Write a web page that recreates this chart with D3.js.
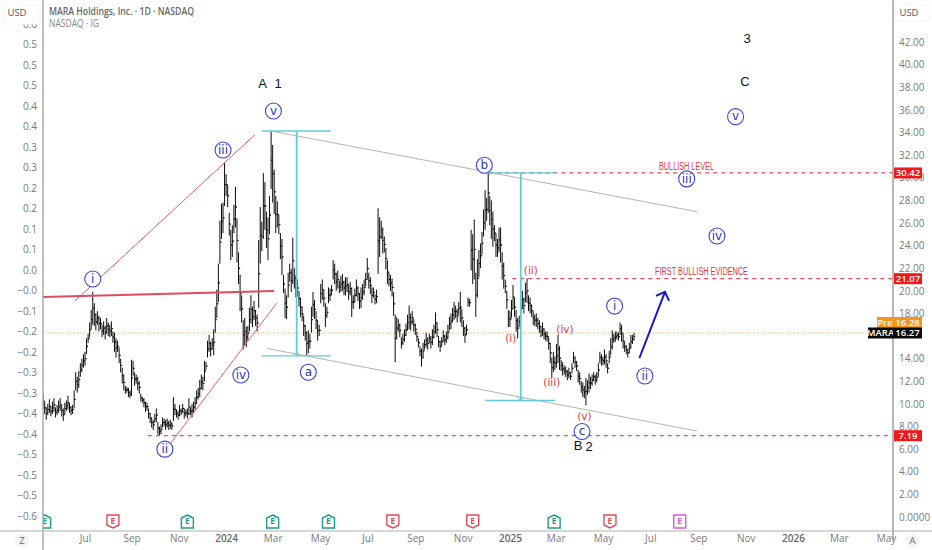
<!DOCTYPE html>
<html>
<head>
<meta charset="utf-8">
<script src="https://cdn.jsdelivr.net/npm/d3@7"></script>
<style>
  html, body { margin: 0; padding: 0; background: #fff; }
  svg { display: block; }
  text { font-family: "Open Sans", "Noto Sans", sans-serif; }
  .axis path.domain, .axis line { display: none; }
  .axis text { font-size: 10px; fill: #7a7a7a; }
</style>
</head>
<body>
<script>
// Daily bars, [low, high], one entry every second calendar day from 2023-05-10
const firstBarDate = "2023-05-10";
const barRanges = [
  // 2023 base and first rally
  [9.6,10.9],[9.1,10.2],[8.6,9.7],[9.0,10.0],[9.2,10.4],[8.9,9.8],[9.1,10.2],[9.3,10.5],[8.8,9.7],[9.0,9.9],[9.2,10.3],
  [9.4,10.5],[8.9,9.9],[8.5,9.6],[9.1,10.1],[9.4,10.3],[9.5,10.7],[9.2,10.1],[9.0,9.8],[9.1,9.9],
  [9.6,11.2],[11.2,12.8],[11.0,12.4],[11.4,12.9],[12.4,13.6],[12.8,14.0],[13.2,14.4],[13.4,14.6],[14.4,15.8],
  [15.4,16.2],[15.9,17.2],[16.6,18.3],[17.0,19.9],[16.9,18.9],
  [16.5,18.0],[17.0,18.2],[16.4,17.8],[16.6,17.6],[15.9,17.0],[16.1,17.3],[15.7,16.9],[16.2,17.6],[16.0,17.2],[15.9,17.0],[16.0,17.3],
  [15.4,16.4],[14.6,16.3],[14.1,15.8],[14.6,15.6],[13.6,15.0],[12.8,14.0],[11.8,13.2],
  [11.2,12.6],[10.9,11.6],[11.0,11.5],[10.6,11.4],[10.5,11.2],[10.7,13.9],[12.5,13.8],
  [11.6,12.8],[11.8,12.6],[11.2,12.4],[10.9,12.0],[10.2,10.9],[10.1,10.6],[9.7,10.5],[9.3,10.2],[9.4,10.1],
  [8.7,9.6],[8.3,9.2],[7.9,8.8],[7.7,8.6],[8.3,9.1],[8.4,9.6],[7.3,8.4],[7.19,8.0],[7.3,8.2],
  [7.9,8.8],[8.0,8.7],[7.7,8.6],[7.9,8.7],[7.7,8.5],[7.8,8.6],[7.7,8.4],[8.5,10.6],
  [9.0,10.0],[8.8,9.5],[8.6,9.4],[8.9,9.9],[9.0,9.6],[9.2,10.0],[8.7,9.6],[8.9,9.5],
  [8.7,9.6],[9.0,10.5],[9.0,9.7],[8.8,10.0],[9.2,10.2],[9.5,10.6],
  [10.0,11.2],[10.4,11.4],[10.6,12.1],[11.3,12.6],[11.2,12.4],[12.0,13.8],[13.0,13.7],
  [14.1,15.6],[14.6,16.1],[14.2,15.5],[14.8,15.8],[14.3,16.6],[16.3,18.6],[17.6,20.1],
  // winter 2024 spikes
  [19.0,22.4],[22.4,26.2],[24.6,27.7],[25.1,27.8],[27.5,31.3],[28.4,30.3],[27.4,29.4],
  [24.9,26.9],[22.7,25.4],[23.0,25.8],[25.1,27.6],[25.6,29.2],[22.5,26.4],[20.6,23.4],[18.2,21.4],[17.2,19.6],
  [14.8,17.4],[15.2,17.6],[15.0,16.8],[15.6,16.9],[16.4,18.5],[17.1,19.6],[16.8,18.6],[17.4,19.1],[16.9,18.3],[16.4,17.9],
  [18.5,24.5],[22.4,27.4],[23.5,26.1],[24.6,30.4],[25.4,29.6],[23.8,27.0],[22.7,26.5],[25.0,28.4],
  [29.0,34.1],[27.8,32.9],[26.8,30.7],[25.1,28.4],[25.6,27.9],[25.0,26.7],[22.8,25.1],[21.4,24.6],
  [19.8,21.4],[17.6,20.2],[17.5,19.6],[19.4,21.6],[20.8,22.4],[19.9,21.9],[20.6,24.7],[20.2,22.0],[19.4,21.4],[19.5,21.0],
  [18.6,20.0],[17.7,19.4],[17.3,18.6],[16.0,17.8],[15.6,17.0],[14.3,16.4],
  // spring to autumn 2024
  [14.5,16.5],[14.9,16.2],[16.3,18.6],[17.7,19.9],[17.5,19.2],[16.6,18.2],[15.6,17.4],[16.0,17.0],
  [18.9,20.6],[19.2,21.0],[18.6,20.1],[16.8,18.9],[17.6,18.6],[18.9,20.3],[19.1,20.2],[19.6,20.5],[21.0,22.7],[20.6,22.4],
  [20.0,21.6],[20.2,21.8],[19.8,20.9],[19.9,21.3],[20.0,21.5],[19.6,20.9],[19.6,21.2],[19.9,21.2],[19.2,20.6],[19.6,20.8],[17.7,20.3],
  [18.4,19.6],[19.0,20.2],[19.5,21.0],[19.1,20.4],[18.4,19.8],[18.5,20.3],[19.2,20.6],[19.6,21.0],[20.4,21.6],[21.0,22.9],
  [20.2,21.6],[19.7,21.2],[18.9,20.3],[19.4,20.3],[18.8,19.7],[18.9,20.1],[21.5,27.3],[23.0,26.5],
  [24.6,26.2],[23.3,25.6],[23.4,24.8],[21.9,23.8],[20.6,22.7],[20.4,21.6],[20.0,21.4],[19.5,21.1],[17.8,19.9],[13.7,17.9],
  [15.7,17.7],[16.4,17.5],[15.9,17.1],[14.9,15.9],[15.2,16.2],[15.5,16.6],[16.0,17.1],[16.5,17.9],[16.6,18.7],[16.5,18.0],[17.0,18.2],
  [16.4,17.5],[16.1,17.1],[15.5,16.4],[15.0,15.8],[14.2,15.1],[13.3,14.9],[14.0,15.4],[14.8,15.7],[15.0,16.3],[14.8,15.9],[15.4,16.2],
  [14.9,16.0],[15.2,16.6],[15.8,17.0],[16.2,18.1],[15.9,17.2],[15.0,16.0],[14.6,15.6],[15.1,15.9],[15.5,16.5],[15.2,16.1],[15.4,16.4],[15.7,17.0],[16.5,17.7],
  [16.6,18.0],[17.2,18.5],[17.4,19.0],[17.6,18.7],[17.2,18.4],[17.9,19.0],[17.2,19.9],[16.8,18.4],[16.0,17.4],[15.4,16.8],[16.1,17.0],
  // november 2024 wave b
  [18.6,19.4],[18.6,19.3],[21.8,25.4],[20.6,25.0],[21.0,26.3],[17.7,21.6],[19.4,22.8],
  [21.2,23.6],[22.0,24.2],[23.2,25.2],[24.8,27.2],[25.4,28.9],[26.2,28.2],[26.9,30.4],[25.8,28.4],
  [24.6,28.0],[23.9,27.0],[24.4,25.8],[23.0,25.1],[23.0,24.6],[23.4,25.6],[22.5,25.6],[21.0,23.4],[20.2,22.5],
  [19.8,21.0],[18.4,20.0],[16.8,18.3],[16.8,18.2],[17.6,19.2],[18.4,20.5],[17.7,19.4],[16.4,18.3],[15.8,17.6],
  // 2025 decline and bounce
  [16.8,17.8],[17.8,19.0],[18.4,20.0],[18.0,19.4],[19.0,20.7],[18.9,21.1],[18.2,19.6],[18.0,19.4],[17.7,18.8],
  [17.0,18.2],[16.9,17.9],[16.8,18.0],[16.6,17.6],[16.3,17.4],[15.9,16.9],[16.0,17.2],[15.7,16.7],[15.6,16.4],[15.5,16.4],[14.8,15.9],[13.6,15.4],
  [12.3,14.1],[12.8,14.6],[13.0,14.2],[13.2,15.3],[13.6,16.1],[13.0,15.1],[12.9,13.9],[12.5,13.7],[12.6,13.4],[12.4,13.3],[12.1,13.0],[12.3,13.2],
  [12.1,12.8],[12.7,13.6],[13.6,14.6],[13.2,14.2],[12.9,13.8],[11.9,13.0],[11.7,12.8],[11.0,12.0],[10.6,11.9],[10.5,11.6],[9.9,12.3],
  [10.8,12.1],[11.0,12.7],[11.3,12.4],[11.6,12.6],[12.0,12.8],[11.7,12.6],[11.9,12.8],[12.4,13.6],[13.6,14.6],[13.4,14.4],
  [13.4,14.2],[13.5,14.8],[13.2,14.4],[12.7,13.6],[13.6,14.7],[14.3,15.8],[14.8,16.5],[15.4,16.2],[15.5,16.4],[15.7,16.4],
  [15.6,16.3],[16.1,17.2],[15.5,17.0],[14.9,16.2],[14.6,15.5],[14.4,15.2],[14.1,14.9],[14.5,15.4],[14.9,16.1],[15.3,16.1],[15.6,16.3]
];

// Axis ticks (16.00 sits under the price tags, so it is left out)
const priceTicks = [0,2,4,6,8,10,12,14,18,20,22,24,26,28,30,32,34,36,38,40,42];
const leftTicks = [-0.6,-0.55,-0.5,-0.45,-0.4,-0.35,-0.3,-0.25,-0.2,-0.15,-0.1,-0.05,0,0.05,0.1,0.15,0.2,0.25,0.3,0.35,0.4,0.45,0.5,0.55,0.6];
const leftLabels = ["−0.6","−0.5","−0.5","−0.5","−0.4","−0.4","−0.3","−0.3","−0.2","−0.2","−0.1","−0.0","0.0","0.1","0.1","0.2","0.2","0.3","0.3","0.4","0.4","0.5","0.5","0.5","0.6"];
const timeTicks = ["2023-07-03","2023-09-01","2023-11-01","2024-01-01","2024-03-01","2024-05-01","2024-07-01","2024-09-01","2024-11-01","2025-01-01","2025-03-01","2025-05-01","2025-07-01","2025-09-01","2025-11-01","2026-01-01","2026-03-01","2026-05-01"];
const timeLabels = ["Jul","Sep","Nov","2024","Mar","May","Jul","Sep","Nov","2025","Mar","May","Jul","Sep","Nov","2026","Mar","May"];

// Levels and drawings, as [date, price]
const lastPrice = 16.27;
const prePrice = 16.28;
const dashedLevels = [[7.19,"2023-09-22"],[21.07,"2025-01-04"],[30.42,"2024-11-25"]];
const wedgeUpper = [["2023-06-20",19.1],["2024-02-07",33.8]];
const wedgeLower = [["2023-10-08",5.3],["2024-03-06",18.9]];
const neckLine = [["2023-05-10",19.45],["2024-03-03",19.98]];
const channelUpper = [["2024-03-01",34.1],["2025-08-30",27.0]];
const channelLower = [["2024-02-23",14.9],["2025-08-30",7.6]];
const forecastArrow = [["2025-06-17",14.06],["2025-07-20",19.9]];
const measureFirst = { from: "2024-02-16", to: "2024-05-15", at: "2024-04-01", top: 34.13, bottom: 14.24 };
const measureSecond = { from: "2024-11-30", to: "2025-02-28", at: "2025-01-15", top: 30.42, bottom: 10.3 };

const circledLabels = ["i","ii","iii","iv","v","a","b","c","i","ii","iii","iv","v"];
const circledDates = ["2023-07-13","2023-10-14","2023-12-28","2024-01-20","2024-03-02","2024-04-16","2024-11-29","2025-04-04","2025-05-16","2025-06-24","2025-08-17","2025-09-25","2025-10-19"];
const circledPrices = [21.04,6.0,32.45,12.55,35.9,12.8,31.1,7.56,18.65,12.47,29.9,24.85,35.4];

const redLabels = ["(i)","(ii)","(iii)","(iv)","(v)"];
const redDates = ["2025-01-02","2025-01-28","2025-02-24","2025-03-13","2025-04-07"];
const redPrices = [15.8,21.8,11.9,16.6,8.84];

const blackLabels = ["A","1","3","C","B","2"];
const blackDates = ["2024-02-17","2024-03-08","2025-11-03","2025-10-31","2025-03-30","2025-04-13"];
const blackPrices = [38.3,38.3,42.3,38.5,6.37,6.2];

const earningsDates = ["2023-05-12","2023-08-08","2023-11-12","2024-03-01","2024-05-12","2024-08-03","2024-11-14","2025-02-27","2025-05-10","2025-08-08"];
const earningsKinds = ["beat","miss","beat","beat","beat","miss","miss","beat","miss","next"];

const width = 932, height = 550;
const plotLeft = 43, plotRight = 893, plotBottom = 531;
const parse = d3.timeParse("%Y-%m-%d");

const x = d3.scaleTime().domain([parse("2023-07-03"), parse("2026-05-01")]).range([85, 886]);
const y = d3.scaleLinear().domain([0, 42]).range([517, 42]);
const yLeft = d3.scaleLinear().domain([-0.6, 0]).range([516, 270]);

const svg = d3.select("body").append("svg").attr("width", width).attr("height", height);
svg.append("defs").append("clipPath").attr("id", "plot")
  .append("rect").attr("x", plotLeft).attr("y", 0).attr("width", plotRight - plotLeft).attr("height", plotBottom);

const chart = svg.append("g").attr("clip-path", "url(#plot)");

function drawLine(points, color, w) {
  return chart.append("line")
    .attr("x1", x(parse(points[0][0]))).attr("y1", y(points[0][1]))
    .attr("x2", x(parse(points[1][0]))).attr("y2", y(points[1][1]))
    .attr("stroke", color).attr("stroke-width", w);
}

// last price dotted line
chart.append("line")
  .attr("x1", plotLeft).attr("x2", 868).attr("y1", y(lastPrice)).attr("y2", y(lastPrice))
  .attr("stroke", "#f5ae58").attr("stroke-width", 1).attr("stroke-dasharray", "1 1.5");

// bars
const start = parse(firstBarDate);
const bars = barRanges.map((r, i) => ({
  date: d3.timeDay.offset(start, i * 2),
  low: r[0],
  high: r[1],
  open: i ? (barRanges[i - 1][0] + barRanges[i - 1][1]) / 2 : r[0],
  close: (r[0] + r[1]) / 2
}));
chart.append("g").selectAll("path").data(bars).join("path")
  .attr("d", d => {
    const px = x(d.date);
    return `M${px},${y(d.high)}V${y(d.low)}M${px - 1.2},${y(d.open)}H${px}M${px},${y(d.close)}H${px + 1.2}`;
  })
  .attr("fill", "none").attr("stroke", "#0c0c0c").attr("stroke-width", 1);

// channel, wedge
drawLine(channelUpper, "#b4b4b4", 1);
drawLine(channelLower, "#b4b4b4", 1);
drawLine(wedgeUpper, "#e85a74", 1);
drawLine(wedgeLower, "#e85a74", 1);
drawLine(neckLine, "#e04a62", 2);

// red dashed levels
dashedLevels.forEach(l => {
  chart.append("line")
    .attr("x1", x(parse(l[1]))).attr("x2", plotRight).attr("y1", y(l[0])).attr("y2", y(l[0]))
    .attr("stroke", "#ea4a62").attr("stroke-width", 1.2).attr("stroke-dasharray", "4 4");
});

// measured moves
const cyan = "#62ccd4";
[measureFirst, measureSecond].forEach(m => {
  const cx = x(parse(m.at));
  [m.top, m.bottom].forEach(p => {
    chart.append("line")
      .attr("x1", x(parse(m.from))).attr("x2", x(parse(m.to))).attr("y1", y(p)).attr("y2", y(p))
      .attr("stroke", cyan).attr("stroke-width", 1.3);
  });
  chart.append("line").attr("x1", cx).attr("x2", cx).attr("y1", y(m.top)).attr("y2", y(m.bottom))
    .attr("stroke", cyan).attr("stroke-width", 1.8);
  chart.append("path").attr("d", `M${cx - 3},${y(m.bottom) - 3}L${cx},${y(m.bottom)}L${cx + 3},${y(m.bottom) - 3}`)
    .attr("fill", "none").attr("stroke", cyan).attr("stroke-width", 1);
});

// forecast arrow
const ax1 = x(parse(forecastArrow[0][0])), ay1 = y(forecastArrow[0][1]);
const ax2 = x(parse(forecastArrow[1][0])), ay2 = y(forecastArrow[1][1]);
chart.append("line").attr("x1", ax1).attr("y1", ay1).attr("x2", ax2).attr("y2", ay2)
  .attr("stroke", "#1616c8").attr("stroke-width", 2);
chart.append("path").attr("d", `M${ax2 - 9},${ay2 + 4}L${ax2},${ay2}L${ax2 + 4},${ay2 + 9}`)
  .attr("fill", "none").attr("stroke", "#1616c8").attr("stroke-width", 2);

// circled wave labels
const circled = chart.append("g").selectAll("g").data(circledLabels).join("g")
  .attr("transform", (d, i) => `translate(${x(parse(circledDates[i]))},${y(circledPrices[i])})`);
circled.append("circle").attr("r", 8).attr("fill", "#fff").attr("stroke", "#3f3fe0").attr("stroke-width", 1.1);
circled.append("text").text(d => d).attr("text-anchor", "middle").attr("dy", "0.32em")
  .style("font-size", "12px").style("font-family", "'DejaVu Sans', sans-serif").attr("fill", "#3232c8");

// red wave labels
chart.append("g").selectAll("text").data(redLabels).join("text")
  .text(d => d).attr("x", (d, i) => x(parse(redDates[i]))).attr("y", (d, i) => y(redPrices[i]))
  .attr("text-anchor", "middle").attr("dy", "0.32em")
  .style("font-size", "10.5px").style("font-family", "'DejaVu Sans', sans-serif").attr("fill", "#e2343f");

// black degree labels
chart.append("g").selectAll("text").data(blackLabels).join("text")
  .text(d => d).attr("x", (d, i) => x(parse(blackDates[i]))).attr("y", (d, i) => y(blackPrices[i]))
  .attr("text-anchor", "middle").attr("dy", "0.35em")
  .style("font-size", "13px").style("font-family", "'Liberation Sans', sans-serif").attr("fill", "#111");

// level captions
chart.append("text").text("BULLISH LEVEL").attr("x", 686.5).attr("y", 166).attr("dy", "0.35em")
  .attr("text-anchor", "middle").attr("textLength", 55).attr("lengthAdjust", "spacingAndGlyphs")
  .style("font-size", "10px").style("font-family", "'Liberation Sans Narrow', 'Liberation Sans', sans-serif").attr("fill", "#e2343f");
chart.append("text").text("FIRST BULLISH EVIDENCE").attr("x", 701.5).attr("y", 271.5).attr("dy", "0.35em")
  .attr("text-anchor", "middle").attr("textLength", 93).attr("lengthAdjust", "spacingAndGlyphs")
  .style("font-size", "10px").style("font-family", "'Liberation Sans Narrow', 'Liberation Sans', sans-serif").attr("fill", "#e2343f");

// earnings flags
const flagColor = { beat: "#1f9a84", miss: "#e24a5e", next: "#d45ade" };
const flagShape = {
  beat: "M0,-6.5L6,-3.5V6.5H-6V-3.5Z",
  miss: "M-6,-6.5H6V3.5L0,6.5L-6,3.5Z",
  next: "M-6,-6.5H6V6.5H-6Z"
};
const flags = chart.append("g").selectAll("g").data(earningsDates).join("g")
  .attr("transform", d => `translate(${x(parse(d))},521.5)`);
flags.append("path").attr("d", (d, i) => flagShape[earningsKinds[i]]).attr("fill", "#fff")
  .attr("stroke", (d, i) => flagColor[earningsKinds[i]]).attr("stroke-width", 1.4);
flags.append("text").text("E").attr("text-anchor", "middle").attr("dy", "0.35em")
  .style("font-size", "8.5px").style("font-weight", 700).attr("fill", (d, i) => flagColor[earningsKinds[i]]);

// frame
svg.append("line").attr("x1", plotLeft).attr("x2", plotLeft).attr("y1", 0).attr("y2", height).attr("stroke", "#a6a6a6").attr("stroke-width", 1.4);
svg.append("line").attr("x1", plotRight).attr("x2", plotRight).attr("y1", 0).attr("y2", 540).attr("stroke", "#a6a6a6").attr("stroke-width", 1.6);
svg.append("line").attr("x1", 0).attr("x2", width).attr("y1", plotBottom).attr("y2", plotBottom).attr("stroke", "#b0b0b0").attr("stroke-width", 1.2);

// axes
svg.append("g").attr("class", "axis").attr("transform", `translate(${plotRight},0)`)
  .call(d3.axisRight(y).tickValues(priceTicks).tickSize(0).tickPadding(6)
    .tickFormat(d => d === 0 ? "0.0000" : d.toFixed(2)));
svg.append("g").attr("class", "axis").attr("transform", `translate(${plotLeft},0)`)
  .call(d3.axisLeft(yLeft).tickValues(leftTicks).tickSize(0).tickPadding(6)
    .tickFormat((d, i) => leftLabels[i]));
const xAxis = svg.append("g").attr("class", "axis").attr("transform", `translate(0,${plotBottom})`)
  .call(d3.axisBottom(x).tickValues(timeTicks.map(parse)).tickSize(0).tickPadding(4)
    .tickFormat((d, i) => timeLabels[i]));
xAxis.selectAll("text").filter(function () { return /^20/.test(this.textContent); })
  .style("font-weight", 600).style("fill", "#666");

// USD boxes (the left one hides the top half of the 0.6 tick)
[[4, 17, 36, 19], [895, 909, 33, 16]].forEach(b => {
  svg.append("rect").attr("x", b[0]).attr("y", 5).attr("width", b[2]).attr("height", b[3])
    .attr("fill", "#fff").attr("stroke", "#f3f3f3");
  svg.append("text").text("USD").attr("x", b[1]).attr("y", 13).attr("dy", "0.35em")
    .attr("text-anchor", "middle").style("font-size", "9.5px").attr("fill", "#555");
});

// price tags
function tag(px, w, py, label, fill) {
  svg.append("rect").attr("x", px).attr("y", py - 5.5).attr("width", w).attr("height", 11).attr("fill", fill);
  svg.append("text").text(label).attr("x", px + w / 2).attr("y", py).attr("dy", "0.35em")
    .attr("text-anchor", "middle").style("font-size", "9.5px").style("font-weight", 600).attr("fill", "#fff");
}
dashedLevels.forEach(l => tag(894, 28, y(l[0]), l[0].toFixed(2), "#f01818"));
// pre-market tag stacks directly above the last price tag
tag(877, 16, y(lastPrice) - 10.5, "Pre", "#f7941d");
tag(893, 29, y(lastPrice) - 10.5, prePrice.toFixed(2), "#f7941d");
tag(868, 25, y(lastPrice), "MARA", "#0b0b0b");
tag(893, 29, y(lastPrice), lastPrice.toFixed(2), "#0b0b0b");

// header
svg.append("text").text("MARA Holdings, Inc. · 1D · NASDAQ").attr("x", 49).attr("y", 15)
  .attr("textLength", 145).attr("lengthAdjust", "spacingAndGlyphs")
  .style("font-size", "10.5px").style("font-weight", 600).attr("fill", "#666");
svg.append("text").text("NASDAQ · IG").attr("x", 49).attr("y", 27)
  .attr("textLength", 50).attr("lengthAdjust", "spacingAndGlyphs")
  .style("font-size", "10px").attr("fill", "#888");

// corner buttons
[["Z", 22], ["A", 912.5]].forEach(b => {
  svg.append("circle").attr("cx", b[1]).attr("cy", 541).attr("r", 7).attr("fill", "#f4f4f4");
  svg.append("text").text(b[0]).attr("x", b[1]).attr("y", 541).attr("dy", "0.35em")
    .attr("text-anchor", "middle").style("font-size", "9.5px").attr("fill", "#666");
});
</script>
</body>
</html>
